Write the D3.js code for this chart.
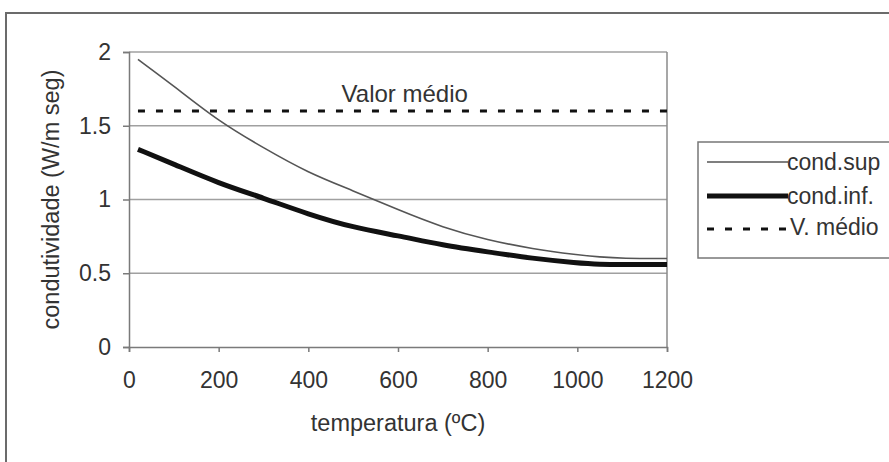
<!DOCTYPE html>
<html><head><meta charset="utf-8">
<script src="https://cdn.jsdelivr.net/npm/d3@7"></script>
<style>body{margin:0;background:#fff}svg{display:block;font-family:"Liberation Sans",Arial,sans-serif}</style>
</head><body>
<script>
const temps = [20,100,200,300,400,500,600,700,800,900,1000,1050,1100,1200];
const condSup = [1.95,1.77,1.53,1.35,1.18,1.06,0.93,0.81,0.725,0.665,0.625,0.61,0.60,0.60];
const condInf = [1.34,1.24,1.11,1.01,0.90,0.81,0.755,0.69,0.645,0.60,0.57,0.56,0.56,0.56];
const vMedio = 1.6;
const xTicks = [0,200,400,600,800,1000,1200];
const yTicks = [0,0.5,1,1.5,2];
const legendLabels = ["cond.sup","cond.inf.","V. médio"];

const W=889,H=462;
const FS=23;
const svg=d3.select("body").append("svg").attr("width",W).attr("height",H);
svg.append("path").attr("d","M6,462 L6,13 L889,13").attr("fill","none").attr("stroke","#6b6b6b").attr("stroke-width",2);

const x=d3.scaleLinear().domain([0,1200]).range([129,667]);
const y=d3.scaleLinear().domain([0,2]).range([347,52]);

svg.append("g").selectAll("line").data(yTicks.filter(d=>d>0)).join("line")
 .attr("x1",x(0)).attr("x2",x(1200)).attr("y1",d=>y(d)).attr("y2",d=>y(d))
 .attr("stroke","#a0a0a0").attr("stroke-width",1.5);
svg.append("line").attr("x1",x(1200)).attr("x2",x(1200)).attr("y1",y(2)).attr("y2",y(0)).attr("stroke","#8a8a8a").attr("stroke-width",1.5);

const yAxis=svg.append("g").attr("transform",`translate(${x(0)},0)`)
 .call(d3.axisLeft(y).tickValues(yTicks).tickSize(6).tickPadding(12).tickFormat(d=>String(d)));
const xAxis=svg.append("g").attr("transform",`translate(0,${y(0)})`)
 .call(d3.axisBottom(x).tickValues(xTicks).tickSize(5).tickPadding(20).tickFormat(d=>String(d)));
[yAxis,xAxis].forEach(a=>{
 a.select(".domain").attr("stroke","#7a7a7a").attr("stroke-width",1.5);
 a.selectAll(".tick line").attr("stroke","#7a7a7a").attr("stroke-width",1.5);
 a.selectAll("text").attr("fill","#333").attr("font-size",FS).attr("font-family","Liberation Sans, Arial, sans-serif");
});

const line=d3.line().x((d,i)=>x(temps[i])).y(d=>y(d)).curve(d3.curveBasis);
svg.append("path").datum(condInf).attr("d",line).attr("fill","none").attr("stroke","#111").attr("stroke-width",5);
svg.append("path").datum(condSup).attr("d",line).attr("fill","none").attr("stroke","#555").attr("stroke-width",1.6);
svg.append("line").attr("x1",x(20)).attr("x2",x(1200)).attr("y1",y(vMedio)).attr("y2",y(vMedio))
 .attr("stroke","#111").attr("stroke-width",3).attr("stroke-dasharray","7,11");

svg.append("text").attr("x",x(615)).attr("y",102).attr("text-anchor","middle").attr("font-size",24).attr("fill","#333").text("Valor médio");

svg.append("text").attr("x",398).attr("y",431).attr("text-anchor","middle").attr("font-size",FS+0.5).attr("fill","#333").text("temperatura (ºC)");
svg.append("text").attr("transform",`translate(59,${y(1)}) rotate(-90)`).attr("text-anchor","middle").attr("font-size",FS+0.5).attr("fill","#333").text("condutividade (W/m seg)");

const lg=svg.append("g");
lg.append("rect").attr("x",698).attr("y",142).attr("width",200).attr("height",116).attr("fill","#fff").attr("stroke","#777").attr("stroke-width",1.5);
const ly=[162,196,229];
const styles=[{c:"#555",w:1.6,d:null},{c:"#111",w:5,d:null},{c:"#111",w:3,d:"7,11"}];
legendLabels.forEach((t,i)=>{
 lg.append("line").attr("x1",707).attr("x2",788).attr("y1",ly[i]).attr("y2",ly[i]).attr("stroke",styles[i].c).attr("stroke-width",styles[i].w).attr("stroke-dasharray",styles[i].d);
 lg.append("text").attr("x",i==2?790:787).attr("y",ly[i]+(i==2?3:5)+3).attr("font-size",FS).attr("fill","#333").text(t);
});
</script>
</body></html>
